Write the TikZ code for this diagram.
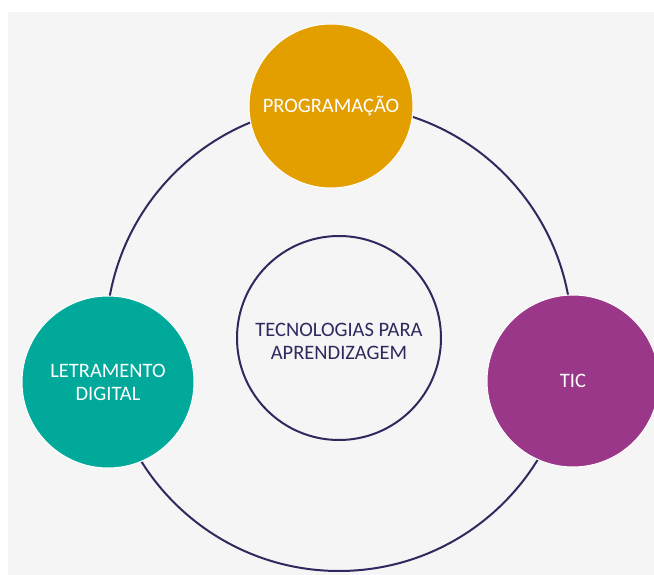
\documentclass[tikz,border=0pt]{standalone}
\usepackage{fontspec}
\setmainfont{Carlito}
\definecolor{bgpanel}{HTML}{F5F5F5}
\definecolor{ringline}{HTML}{2E2A5E}
\definecolor{progorange}{HTML}{E39F00}
\definecolor{letteal}{HTML}{00A999}
\definecolor{ticpurple}{HTML}{9B3789}
\begin{document}
\begin{tikzpicture}[x=1pt,y=-1pt,
  hub/.style={circle, draw=white, line width=1pt, inner sep=0pt,
    minimum size=#1, text=white, align=center,
    font=\fontsize{20.5}{23}\selectfont},
  core/.style={circle, draw=ringline, line width=2pt, fill=bgpanel,
    inner sep=0pt, minimum size=204pt},
  corelabel/.style={text=ringline, align=center,
    font=\fontsize{20.5}{23}\selectfont},
  ring/.style={circle, draw=ringline, line width=2pt, inner sep=0pt,
    minimum size=466pt}]
\useasboundingbox (0,0) rectangle (654,575);
\fill[white] (0,0) rectangle (654,575);
\fill[bgpanel] (8,12) rectangle (654,575);
\begin{scope}
\clip (0,0) rectangle (654,575);
\node[ring] (cycle) at (339,338) {};
\node[core] (center) at (339,338) {};
\node[corelabel] (centertext) at (339,341) {TECNOLOGIAS PARA\\APRENDIZAGEM};
\node[hub=164pt, fill=progorange] (prog) at (331,106) {PROGRAMAÇÃO};
\node[hub=172pt, fill=letteal] (letr) at (108,382) {LETRAMENTO\\DIGITAL};
\node[hub=172pt, fill=ticpurple] (tic) at (573,381) {TIC};
\end{scope}
\end{tikzpicture}
\end{document}
